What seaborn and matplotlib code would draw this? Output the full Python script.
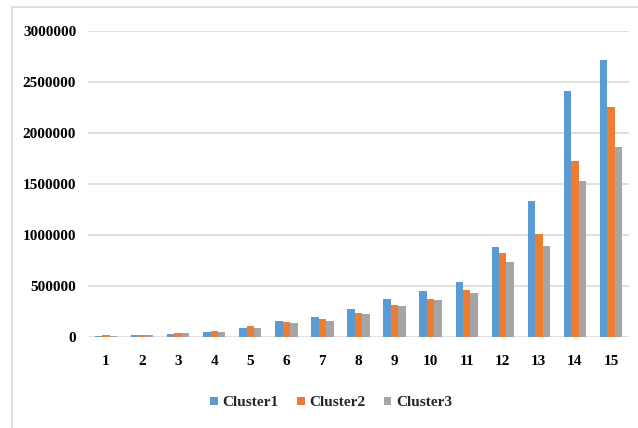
import matplotlib
matplotlib.use("Agg")
import matplotlib.pyplot as plt
import seaborn as sns
import pandas as pd
from matplotlib.patches import Patch
from matplotlib.lines import Line2D

categories = [str(i) for i in range(1, 16)]
cluster1 = [10000, 23000, 33000, 52000, 91000, 157000, 199000, 275000, 370000,
            450000, 542000, 880000, 1330000, 2410000, 2716000]
cluster2 = [15000, 23000, 42000, 62000, 108000, 147000, 173000, 235000, 310000,
            375000, 460000, 820000, 1013000, 1725000, 2250000]
cluster3 = [12000, 15000, 35000, 52000, 90000, 137000, 160000, 225000, 300000,
            360000, 430000, 738000, 895000, 1530000, 1866000]
series_names = ["Cluster1", "Cluster2", "Cluster3"]
colors = ["#5B9BD5", "#ED7D31", "#A5A5A5"]

rows = []
for name, vals in zip(series_names, [cluster1, cluster2, cluster3]):
    for c, v in zip(categories, vals):
        rows.append({"cat": c, "series": name, "value": v})
df = pd.DataFrame(rows)

sns.set_theme(style="white")
plt.rcParams["font.family"] = ["Liberation Serif", "DejaVu Serif"]
plt.rcParams["font.weight"] = "bold"

fig = plt.figure(figsize=(6.38, 4.28), dpi=100)
ax = fig.add_axes([88/638, 1-337/428, (629-88)/638, (337-31)/428])

sns.barplot(data=df, x="cat", y="value", hue="series", palette=colors,
            width=0.62, ax=ax, legend=False, saturation=1, errorbar=None,
            edgecolor="none", linewidth=0, zorder=3)

ax.set_ylim(0, 3000000)
ax.set_xlim(-0.5, 14.5)
ax.set_yticks(range(0, 3000001, 500000))
ax.set_yticklabels([str(v) for v in range(0, 3000001, 500000)])
ax.grid(axis="y", color="#D9D9D9", linewidth=1.2, zorder=0)
ax.grid(axis="x", visible=False)
for s in ax.spines.values():
    s.set_visible(False)
ax.set_xlabel("")
ax.set_ylabel("")
ax.tick_params(axis="y", length=0, pad=8.5, labelsize=11)
ax.tick_params(axis="x", length=0, pad=13, labelsize=11)
for lab in ax.get_xticklabels() + ax.get_yticklabels():
    lab.set_fontweight("bold")
    lab.set_color("black")

handles = [Patch(facecolor=c, edgecolor="none") for c in colors]
leg = fig.legend(handles, series_names, loc="center", bbox_to_anchor=(331/638, 1-403/428),
                 ncol=3, frameon=False, fontsize=11, handlelength=0.5, handleheight=0.5,
                 handletextpad=0.3, columnspacing=1.2, prop={"weight": "bold", "size": 11})

# outer chart frame (left and top edges visible)
fig.add_artist(Line2D([12/638, 12/638], [0, 1-7/428], color="#D9D9D9", linewidth=1.2,
                      transform=fig.transFigure))
fig.add_artist(Line2D([12/638, 1], [1-7/428, 1-7/428], color="#D9D9D9", linewidth=1.2,
                      transform=fig.transFigure))

fig.savefig("out.png", dpi=100)
